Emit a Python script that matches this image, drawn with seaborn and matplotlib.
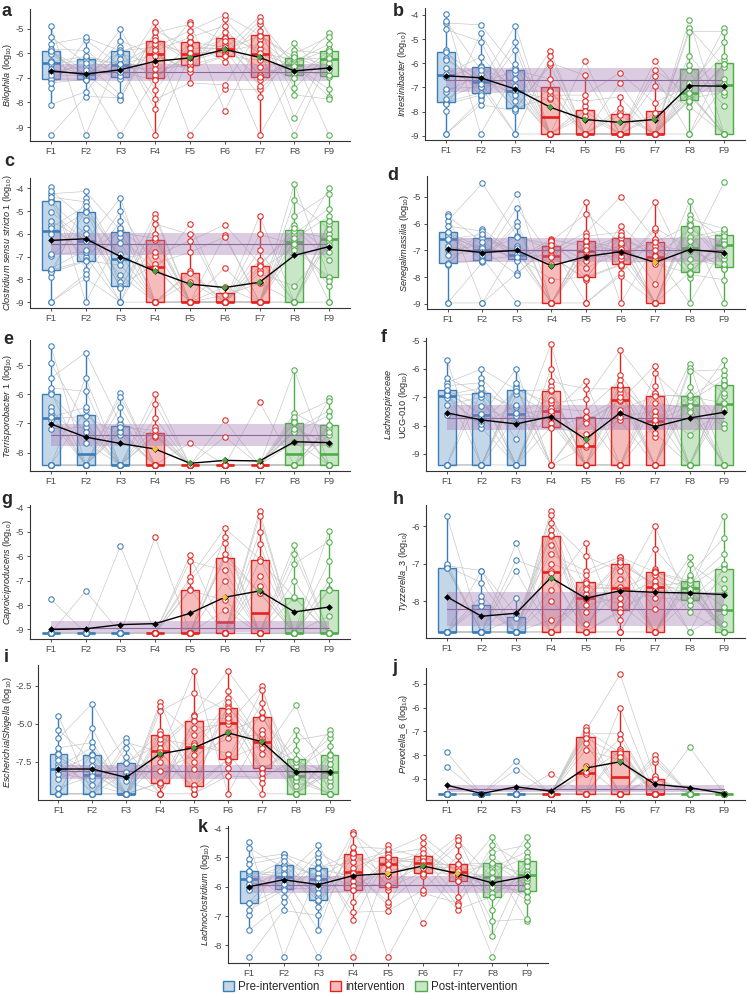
import numpy as np
import pandas as pd
import matplotlib
matplotlib.use("Agg")
import matplotlib.pyplot as plt
import seaborn as sns
from matplotlib.colors import to_rgba
from matplotlib.patches import Patch

sns.set_style("ticks")
plt.rcParams["font.family"] = ["Liberation Sans", "DejaVu Sans"]
plt.rcParams["mathtext.fontset"] = "custom"
plt.rcParams["mathtext.rm"] = "Liberation Sans"
plt.rcParams["mathtext.it"] = "Liberation Sans:italic"
plt.rcParams["mathtext.bf"] = "Liberation Sans:bold"
plt.rcParams["axes.unicode_minus"] = False

# %% data ---------------------------------------------------------------
VISITS = ["F1", "F2", "F3", "F4", "F5", "F6", "F7", "F8", "F9"]
PHASES = ["Pre-intervention"] * 3 + ["intervention"] * 4 + ["Post-intervention"] * 2
PHASE_COLORS = {"Pre-intervention": "#3B7DB9", "intervention": "#E2231F", "Post-intervention": "#4EAD48"}

# per-visit log10 abundances (20 samples each)
BILOPHILA = [
    [-9.32, -8.09, -7.43, -7.2, -7.1, -7.05, -6.89, -6.76, -6.63, -6.45, -6.36, -6.3, -6.05, -5.96, -5.92, -5.9, -5.83, -5.63, -5.33, -4.89],
    [-9.32, -7.76, -7.56, -7.09, -7.07, -7.05, -6.99, -6.95, -6.9, -6.87, -6.85, -6.69, -6.52, -6.4, -6.27, -6.2, -6.13, -5.89, -5.45, -5.36],
    [-9.32, -7.89, -7.8, -7.69, -7.03, -6.93, -6.89, -6.76, -6.6, -6.5, -6.45, -6.43, -6.23, -6.03, -5.94, -5.9, -5.89, -5.76, -5.49, -5.03],
    [-9.32, -8.27, -7.87, -7.49, -7.09, -7.0, -6.89, -6.63, -6.43, -6.1, -6.0, -5.89, -5.75, -5.63, -5.5, -5.45, -5.36, -5.16, -5.07, -4.72],
    [-9.32, -7.2, -6.76, -6.63, -6.52, -6.49, -6.35, -6.23, -6.1, -6.05, -6.0, -5.96, -5.8, -5.73, -5.55, -5.5, -5.36, -5.09, -4.83, -4.72],
    [-8.36, -7.47, -7.29, -6.36, -6.12, -6.1, -6.0, -5.95, -5.87, -5.84, -5.82, -5.76, -5.63, -5.5, -5.38, -5.33, -5.16, -4.89, -4.63, -4.45],
    [-9.32, -7.76, -7.47, -7.33, -7.09, -6.95, -6.89, -6.56, -6.29, -6.05, -6.0, -5.83, -5.63, -5.43, -5.29, -5.25, -5.09, -4.83, -4.69, -4.52],
    [-9.32, -8.63, -7.69, -7.43, -6.99, -6.85, -6.8, -6.69, -6.56, -6.5, -6.48, -6.4, -6.32, -6.25, -6.2, -6.16, -6.1, -6.03, -5.87, -5.6],
    [-9.32, -7.87, -7.76, -7.47, -6.96, -6.9, -6.69, -6.5, -6.4, -6.25, -6.2, -6.16, -6.05, -6.0, -5.9, -5.88, -5.83, -5.63, -5.33, -5.19],
]
BILOPHILA_MEAN = [-6.72, -6.85, -6.67, -6.33, -6.19, -5.85, -6.17, -6.72, -6.6]
BILOPHILA_MARK = "kkkkgggkk"
BILOPHILA_BAND = (-7.13, -6.78, -6.45)
BILOPHILA_TICKS = ["-9", "-8", "-7", "-6", "-5"]

INTESTINIBACTER = [
    [-8.93, -8.93, -7.98, -7.7, -7.64, -7.6, -7.46, -7.19, -7.05, -6.55, -6.45, -6.2, -5.85, -5.79, -5.55, -5.45, -4.6, -4.33, -4.23, -3.96],
    [-8.93, -7.71, -7.53, -7.39, -7.32, -7.23, -7.0, -6.98, -6.84, -6.78, -6.75, -6.64, -6.43, -6.27, -6.15, -6.1, -5.74, -5.1, -4.76, -4.41],
    [-8.93, -8.93, -7.98, -7.9, -7.87, -7.85, -7.57, -7.32, -7.2, -7.16, -7.15, -6.94, -6.64, -6.39, -6.29, -6.2, -6.02, -5.44, -5.1, -4.44],
    [-8.93, -8.93, -8.93, -8.93, -8.93, -8.93, -8.93, -8.93, -8.93, -8.93, -7.49, -7.43, -7.32, -7.16, -7.1, -6.66, -6.09, -5.98, -5.7, -5.51],
    [-8.93, -8.93, -8.93, -8.93, -8.93, -8.93, -8.93, -8.93, -8.93, -8.93, -8.93, -8.93, -8.93, -8.18, -7.98, -7.76, -7.57, -7.32, -6.5, -5.92],
    [-8.93, -8.93, -8.93, -8.93, -8.93, -8.93, -8.93, -8.93, -8.93, -8.93, -8.93, -8.93, -8.93, -8.93, -8.15, -8.01, -7.85, -7.39, -6.8, -6.39],
    [-8.93, -8.93, -8.93, -8.93, -8.93, -8.93, -8.93, -8.93, -8.93, -8.93, -8.93, -8.93, -8.93, -8.22, -8.08, -7.63, -6.94, -6.53, -6.29, -5.92],
    [-8.93, -8.93, -7.8, -7.6, -7.57, -7.5, -7.46, -7.32, -7.28, -7.25, -7.19, -7.02, -6.94, -6.8, -6.29, -6.09, -5.68, -4.69, -4.55, -4.19],
    [-8.93, -8.93, -8.93, -8.93, -8.93, -8.93, -7.76, -7.32, -7.19, -6.9, -6.86, -6.64, -6.16, -6.05, -6.02, -5.88, -5.7, -5.13, -4.69, -4.55],
]
INTESTINIBACTER_MEAN = [-6.52, -6.6, -7.07, -7.82, -8.33, -8.45, -8.33, -6.93, -6.95]
INTESTINIBACTER_MARK = "kkkggggkk"
INTESTINIBACTER_BAND = (-7.18, -6.68, -6.2)
INTESTINIBACTER_TICKS = ["-9", "-8", "-7", "-6", "-5", "-4"]

CLOSTRIDIUM = [
    [-9.0, -9.0, -7.89, -7.7, -7.64, -7.6, -7.53, -6.96, -6.89, -6.0, -5.74, -5.6, -5.43, -5.03, -4.6, -4.53, -4.39, -4.24, -4.1, -3.96],
    [-9.0, -7.96, -7.77, -7.57, -7.21, -7.17, -7.0, -6.81, -6.71, -6.32, -6.3, -6.03, -5.74, -5.39, -5.05, -4.97, -4.77, -4.6, -4.43, -4.14],
    [-9.0, -9.0, -9.0, -8.4, -8.34, -8.3, -8.1, -7.81, -7.39, -7.15, -7.1, -6.91, -6.39, -6.14, -5.96, -5.85, -5.74, -5.43, -5.0, -4.43],
    [-9.0, -9.0, -9.0, -9.0, -9.0, -9.0, -9.0, -9.0, -7.6, -7.5, -7.45, -7.31, -6.96, -6.81, -6.29, -6.2, -6.0, -5.57, -5.29, -5.14],
    [-9.0, -9.0, -9.0, -9.0, -9.0, -9.0, -9.0, -9.0, -9.0, -9.0, -9.0, -9.0, -9.0, -8.1, -7.74, -7.63, -6.81, -6.31, -6.03, -5.57],
    [-9.0, -9.0, -9.0, -9.0, -9.0, -9.0, -9.0, -9.0, -9.0, -9.0, -9.0, -9.0, -9.0, -9.0, -8.7, -8.34, -7.49, -6.14, -6.06, -5.6],
    [-9.0, -9.0, -9.0, -9.0, -9.0, -9.0, -9.0, -9.0, -9.0, -9.0, -9.0, -8.17, -7.74, -7.57, -7.43, -7.31, -7.14, -6.71, -6.03, -5.2],
    [-9.0, -9.0, -9.0, -9.0, -9.0, -9.0, -8.29, -6.7, -6.6, -6.46, -6.29, -6.2, -6.0, -5.89, -5.87, -5.74, -5.6, -5.24, -4.53, -3.81],
    [-9.0, -9.0, -8.31, -8.06, -7.95, -7.9, -7.17, -6.8, -6.5, -6.3, -6.2, -6.0, -5.8, -5.57, -5.45, -5.42, -5.24, -4.89, -4.24, -4.0],
]
CLOSTRIDIUM_MEAN = [-6.29, -6.22, -7.0, -7.65, -8.21, -8.36, -8.13, -6.95, -6.56]
CLOSTRIDIUM_MARK = "kkkggggkk"
CLOSTRIDIUM_BAND = (-6.92, -6.46, -5.96)
CLOSTRIDIUM_TICKS = ["-9", "-8", "-7", "-6", "-5", "-4"]

SENEGALIMASSILIA = [
    [-8.97, -8.97, -7.53, -7.5, -7.5, -7.47, -7.16, -6.97, -6.82, -6.6, -6.58, -6.5, -6.47, -6.4, -6.33, -6.3, -6.09, -5.9, -5.71, -5.65],
    [-8.97, -8.97, -7.45, -7.4, -7.38, -7.35, -7.28, -7.16, -7.05, -7.0, -6.95, -6.9, -6.82, -6.7, -6.55, -6.45, -6.4, -6.28, -6.2, -4.49],
    [-8.97, -7.91, -7.85, -7.4, -7.35, -7.33, -7.3, -7.24, -7.2, -7.17, -7.15, -7.0, -6.9, -6.82, -6.5, -6.45, -6.09, -5.94, -5.4, -4.9],
    [-8.97, -8.97, -8.97, -8.97, -8.97, -8.97, -8.97, -8.1, -7.5, -7.25, -7.2, -7.16, -7.0, -6.97, -6.84, -6.8, -6.72, -6.65, -6.6, -6.57],
    [-8.97, -8.97, -8.1, -8.05, -8.02, -8.0, -7.66, -7.4, -7.24, -7.05, -7.0, -6.97, -6.85, -6.72, -6.65, -6.6, -6.47, -6.34, -5.63, -5.19],
    [-8.97, -7.95, -7.85, -7.6, -7.55, -7.52, -7.32, -7.2, -7.07, -7.05, -7.0, -6.94, -6.8, -6.72, -6.55, -6.5, -6.44, -6.32, -6.07, -4.99],
    [-8.97, -8.97, -8.97, -8.97, -8.97, -8.97, -8.25, -7.5, -7.34, -7.25, -7.22, -7.16, -6.97, -6.82, -6.7, -6.6, -6.57, -6.24, -6.15, -5.19],
    [-8.97, -8.03, -7.9, -7.87, -7.85, -7.82, -7.57, -7.32, -7.03, -6.95, -6.88, -6.66, -6.5, -6.22, -6.1, -6.05, -5.97, -5.82, -5.69, -5.15],
    [-8.97, -8.1, -7.7, -7.68, -7.66, -7.6, -7.5, -7.34, -7.16, -6.8, -6.76, -6.7, -6.6, -6.53, -6.45, -6.42, -6.34, -6.25, -6.19, -4.44],
]
SENEGALIMASSILIA_MEAN = [-6.95, -7.08, -7.0, -7.58, -7.23, -7.05, -7.45, -6.97, -7.08]
SENEGALIMASSILIA_MARK = "kkkgkkykk"
SENEGALIMASSILIA_BAND = (-7.45, -6.99, -6.53)
SENEGALIMASSILIA_TICKS = ["-9", "-8", "-7", "-6", "-5"]

TERRISPOROBACTER = [
    [-8.43, -8.43, -8.43, -8.43, -8.43, -8.43, -8.43, -7.2, -6.9, -6.85, -6.78, -6.67, -6.56, -6.45, -6.0, -5.91, -5.78, -5.44, -4.93, -4.34],
    [-8.43, -8.43, -8.43, -8.43, -8.43, -8.43, -8.43, -8.43, -8.43, -8.43, -7.66, -7.3, -7.12, -6.99, -6.75, -6.54, -6.45, -5.9, -5.44, -4.57],
    [-8.43, -8.43, -8.43, -8.43, -8.43, -8.43, -8.43, -8.43, -8.43, -8.43, -8.43, -7.4, -7.3, -7.24, -7.12, -7.01, -6.84, -6.45, -6.09, -5.94],
    [-8.43, -8.43, -8.43, -8.43, -8.43, -8.43, -8.43, -8.43, -8.43, -8.43, -8.43, -8.43, -7.46, -7.42, -7.37, -7.24, -7.12, -6.81, -6.34, -6.0],
    [-8.43, -8.43, -8.43, -8.43, -8.43, -8.43, -8.43, -8.43, -8.43, -8.43, -8.43, -8.43, -8.43, -8.43, -8.43, -8.43, -8.43, -8.43, -8.43, -7.66],
    [-8.43, -8.43, -8.43, -8.43, -8.43, -8.43, -8.43, -8.43, -8.43, -8.43, -8.43, -8.43, -8.43, -8.43, -8.43, -8.43, -8.43, -8.43, -7.46, -6.9],
    [-8.43, -8.43, -8.43, -8.43, -8.43, -8.43, -8.43, -8.43, -8.43, -8.43, -8.43, -8.43, -8.43, -8.43, -8.43, -8.43, -8.43, -8.43, -8.43, -6.28],
    [-8.43, -8.43, -8.43, -8.43, -8.43, -8.43, -8.43, -8.43, -8.43, -8.43, -7.65, -7.29, -7.24, -7.18, -7.0, -6.95, -6.88, -6.79, -6.65, -5.16],
    [-8.43, -8.43, -8.43, -8.43, -8.43, -8.43, -8.43, -8.43, -8.43, -8.43, -7.7, -7.4, -7.29, -7.15, -7.07, -7.05, -6.73, -6.56, -6.22, -6.13],
]
TERRISPOROBACTER_MEAN = [-7.02, -7.47, -7.69, -7.88, -8.37, -8.27, -8.29, -7.63, -7.66]
TERRISPOROBACTER_MARK = "kkkygggkk"
TERRISPOROBACTER_BAND = (-7.78, -7.39, -7.01)
TERRISPOROBACTER_TICKS = ["-8", "-7", "-6", "-5"]

LACHNOSPIRACEAE = [
    [-9.39, -9.39, -9.39, -9.39, -9.39, -9.39, -7.61, -7.26, -7.02, -6.96, -6.92, -6.9, -6.85, -6.8, -6.76, -6.74, -6.59, -6.49, -6.32, -5.67],
    [-9.39, -9.39, -9.39, -9.39, -9.39, -9.39, -8.08, -7.96, -7.85, -7.65, -7.58, -7.3, -7.0, -6.9, -6.87, -6.83, -6.67, -6.49, -6.32, -6.0],
    [-9.39, -9.39, -9.39, -9.39, -9.39, -9.39, -8.47, -7.9, -7.65, -7.6, -7.55, -7.34, -7.29, -6.9, -6.77, -6.73, -6.67, -6.59, -6.49, -6.0],
    [-9.39, -9.39, -9.39, -9.39, -8.1, -8.05, -7.91, -7.73, -7.6, -7.5, -7.44, -7.38, -7.2, -7.08, -6.78, -6.73, -6.59, -6.44, -6.0, -5.12],
    [-9.39, -9.39, -9.39, -9.39, -9.39, -9.39, -9.39, -9.39, -9.39, -8.75, -8.67, -8.3, -7.91, -7.82, -7.7, -7.69, -7.49, -7.06, -6.7, -6.44],
    [-9.39, -9.39, -9.39, -9.39, -9.39, -9.39, -7.81, -7.69, -7.44, -7.14, -7.08, -6.99, -6.85, -6.71, -6.66, -6.6, -6.55, -6.38, -6.2, -5.34],
    [-9.39, -9.39, -9.39, -9.39, -9.39, -9.39, -8.4, -8.26, -7.95, -7.88, -7.82, -7.65, -7.49, -7.2, -6.96, -6.9, -6.85, -6.61, -6.16, -5.88],
    [-9.39, -9.39, -9.39, -9.39, -9.39, -9.39, -8.32, -7.53, -7.4, -7.3, -7.28, -7.14, -7.0, -6.98, -6.95, -6.92, -6.64, -6.08, -5.96, -5.81],
    [-9.39, -9.39, -9.39, -9.39, -9.39, -9.39, -8.08, -7.96, -7.4, -7.25, -7.2, -6.96, -6.85, -6.61, -6.58, -6.5, -6.38, -6.2, -6.02, -5.67],
]
LACHNOSPIRACEAE_MEAN = [-7.55, -7.8, -7.94, -7.68, -8.48, -7.55, -8.04, -7.73, -7.53]
LACHNOSPIRACEAE_MARK = "kkkkgkkkk"
LACHNOSPIRACEAE_BAND = (-8.17, -7.73, -7.29)
LACHNOSPIRACEAE_TICKS = ["-9", "-8", "-7", "-6", "-5"]

CAPROICIPRODUCENS = [
    [-9.14, -9.14, -9.14, -9.14, -9.14, -9.14, -9.14, -9.14, -9.14, -9.14, -9.14, -9.14, -9.14, -9.14, -9.14, -9.14, -9.14, -9.14, -9.14, -7.76],
    [-9.14, -9.14, -9.14, -9.14, -9.14, -9.14, -9.14, -9.14, -9.14, -9.14, -9.14, -9.14, -9.14, -9.14, -9.14, -9.14, -9.14, -9.14, -9.14, -7.42],
    [-9.14, -9.14, -9.14, -9.14, -9.14, -9.14, -9.14, -9.14, -9.14, -9.14, -9.14, -9.14, -9.14, -9.14, -9.14, -9.14, -9.14, -9.14, -9.14, -5.58],
    [-9.14, -9.14, -9.14, -9.14, -9.14, -9.14, -9.14, -9.14, -9.14, -9.14, -9.14, -9.14, -9.14, -9.14, -9.14, -9.14, -9.14, -9.14, -9.14, -5.21],
    [-9.14, -9.14, -9.14, -9.14, -9.14, -9.14, -9.14, -9.14, -9.14, -9.14, -9.14, -9.14, -9.14, -9.14, -7.4, -7.35, -7.0, -6.86, -6.2, -5.96],
    [-9.14, -9.14, -9.14, -9.14, -9.14, -9.14, -9.14, -9.14, -9.14, -9.14, -8.21, -7.8, -7.0, -6.58, -6.1, -6.06, -5.89, -5.44, -5.2, -4.85],
    [-9.14, -9.14, -9.14, -9.14, -9.14, -9.14, -9.14, -9.14, -9.14, -9.14, -7.5, -7.49, -7.2, -6.8, -6.19, -6.1, -5.5, -5.0, -4.36, -4.15],
    [-9.14, -9.14, -9.14, -9.14, -9.14, -9.14, -9.14, -9.14, -9.14, -9.14, -9.14, -9.14, -9.14, -9.14, -7.7, -7.67, -7.0, -6.31, -5.9, -5.54],
    [-9.14, -9.14, -9.14, -9.14, -9.14, -9.14, -9.14, -9.14, -9.14, -9.14, -9.14, -9.14, -9.14, -8.46, -7.4, -7.35, -6.97, -6.2, -5.4, -4.96],
]
CAPROICIPRODUCENS_MEAN = [-9.0, -8.97, -8.8, -8.76, -8.34, -7.68, -7.42, -8.28, -8.08]
CAPROICIPRODUCENS_MARK = "kkkkkygkk"
CAPROICIPRODUCENS_BAND = (-9.11, -8.92, -8.64)
CAPROICIPRODUCENS_TICKS = ["-9", "-8", "-7", "-6", "-5", "-4"]

TYZZERELLA = [
    [-8.82, -8.82, -8.82, -8.82, -8.82, -8.82, -8.82, -8.82, -8.82, -8.82, -8.82, -8.82, -8.82, -8.82, -7.12, -7.1, -7.07, -7.05, -7.0, -5.71],
    [-8.82, -8.82, -8.82, -8.82, -8.82, -8.82, -8.82, -8.82, -8.82, -8.82, -8.82, -8.82, -8.82, -8.82, -8.12, -8.0, -7.85, -7.5, -7.18, -7.18],
    [-8.82, -8.82, -8.82, -8.82, -8.82, -8.82, -8.82, -8.82, -8.82, -8.82, -8.82, -8.82, -8.82, -8.82, -8.45, -8.35, -7.9, -7.2, -6.9, -6.44],
    [-8.82, -8.82, -8.82, -8.82, -8.82, -8.82, -8.5, -8.0, -7.7, -7.25, -7.2, -7.0, -6.75, -6.5, -6.26, -6.24, -6.1, -5.9, -5.7, -5.59],
    [-8.82, -8.82, -8.82, -8.82, -8.82, -8.82, -8.6, -8.3, -8.1, -7.95, -7.9, -7.8, -7.67, -7.6, -7.5, -7.45, -7.3, -7.18, -6.8, -6.44],
    [-8.82, -8.82, -8.82, -8.5, -8.28, -8.22, -8.07, -7.9, -7.7, -7.66, -7.64, -7.62, -7.4, -7.2, -7.02, -6.98, -6.95, -6.9, -6.82, -6.82],
    [-8.82, -8.82, -8.82, -8.82, -8.82, -8.82, -8.2, -7.9, -7.7, -7.65, -7.58, -7.54, -7.45, -7.3, -7.23, -7.22, -7.18, -7.13, -6.6, -6.0],
    [-8.82, -8.82, -8.3, -8.1, -7.97, -7.95, -7.85, -7.75, -7.7, -7.66, -7.64, -7.6, -7.55, -7.5, -7.47, -7.44, -7.35, -7.29, -7.0, -6.82],
    [-8.82, -8.82, -8.82, -8.82, -8.82, -8.82, -8.82, -8.82, -8.6, -8.3, -8.16, -7.8, -7.65, -7.4, -7.15, -7.07, -7.0, -6.73, -6.3, -5.73],
]
TYZZERELLA_MEAN = [-7.88, -8.4, -8.32, -7.37, -7.92, -7.72, -7.76, -7.78, -7.82]
TYZZERELLA_MARK = "kkkgkkkkk"
TYZZERELLA_BAND = (-8.67, -8.21, -7.76)
TYZZERELLA_TICKS = ["-8", "-7", "-6"]

ESCHERICHIA = [
    [-9.6, -9.6, -9.6, -9.6, -9.6, -9.6, -9.2, -8.6, -8.3, -8.08, -7.86, -7.63, -7.41, -7.19, -6.98, -6.95, -6.58, -5.96, -5.4, -4.46],
    [-9.6, -9.6, -9.6, -9.6, -9.6, -9.6, -9.0, -8.6, -8.42, -8.38, -8.3, -8.19, -7.75, -7.41, -7.05, -6.98, -6.52, -6.23, -5.29, -3.68],
    [-9.6, -9.6, -9.6, -9.6, -9.6, -9.6, -9.6, -9.6, -9.6, -9.6, -9.6, -8.75, -8.46, -8.19, -7.6, -7.55, -7.2, -6.58, -6.23, -5.92],
    [-9.6, -9.6, -9.6, -9.0, -8.9, -8.85, -8.08, -7.5, -7.03, -6.85, -6.75, -6.58, -6.29, -6.0, -5.74, -5.66, -5.47, -4.17, -3.84, -3.57],
    [-9.6, -9.6, -9.6, -9.3, -9.1, -9.05, -8.0, -7.52, -7.08, -6.63, -6.4, -6.29, -5.74, -5.29, -4.84, -4.78, -4.51, -4.4, -3.0, -1.55],
    [-9.6, -8.42, -7.92, -7.5, -7.35, -7.3, -6.96, -5.96, -5.51, -5.0, -4.85, -4.62, -4.4, -4.18, -4.0, -3.8, -3.57, -3.33, -2.84, -1.55],
    [-9.6, -8.86, -8.53, -8.2, -7.95, -7.9, -7.0, -6.58, -6.4, -6.23, -6.13, -5.96, -5.69, -5.4, -4.6, -4.55, -4.22, -3.66, -2.77, -2.54],
    [-9.6, -9.6, -9.6, -9.6, -9.6, -9.6, -9.08, -8.75, -8.6, -8.5, -8.42, -8.08, -7.79, -7.48, -7.36, -7.3, -6.74, -6.07, -5.4, -3.78],
    [-9.6, -9.6, -9.6, -9.6, -9.6, -9.6, -9.08, -8.75, -8.5, -8.22, -8.16, -7.97, -7.63, -7.3, -7.03, -6.99, -6.45, -5.96, -5.69, -5.4],
]
ESCHERICHIA_MEAN = [-7.97, -7.97, -8.52, -6.98, -6.58, -5.6, -6.18, -8.16, -8.14]
ESCHERICHIA_MARK = "kkkggggkk"
ESCHERICHIA_BAND = (-8.6, -8.13, -7.72)
ESCHERICHIA_TICKS = ["-7.5", "-5.0", "-2.5"]

PREVOTELLA = [
    [-9.64, -9.64, -9.64, -9.64, -9.64, -9.64, -9.64, -9.64, -9.64, -9.64, -9.64, -9.64, -9.64, -9.64, -9.64, -9.64, -9.64, -9.64, -8.5, -7.88],
    [-9.64, -9.64, -9.64, -9.64, -9.64, -9.64, -9.64, -9.64, -9.64, -9.64, -9.64, -9.64, -9.64, -9.64, -9.64, -9.64, -9.64, -9.64, -9.64, -9.64],
    [-9.64, -9.64, -9.64, -9.64, -9.64, -9.64, -9.64, -9.64, -9.64, -9.64, -9.64, -9.64, -9.64, -9.64, -9.64, -9.64, -9.64, -9.64, -8.61, -8.26],
    [-9.64, -9.64, -9.64, -9.64, -9.64, -9.64, -9.64, -9.64, -9.64, -9.64, -9.64, -9.64, -9.64, -9.64, -9.64, -9.64, -9.64, -9.64, -9.64, -8.78],
    [-9.64, -9.64, -9.64, -9.64, -9.64, -9.64, -9.64, -9.64, -9.64, -8.8, -8.7, -8.47, -7.8, -7.5, -7.26, -7.22, -7.1, -7.0, -6.93, -6.8],
    [-9.64, -9.64, -9.64, -9.64, -9.64, -9.64, -9.64, -9.64, -9.64, -9.64, -8.2, -8.08, -7.95, -7.91, -7.83, -7.75, -7.3, -7.1, -6.0, -4.58],
    [-9.64, -9.64, -9.64, -9.64, -9.64, -9.64, -9.64, -9.64, -9.64, -9.64, -9.64, -9.64, -9.64, -9.64, -9.0, -8.96, -8.9, -8.3, -8.16, -8.0],
    [-9.64, -9.64, -9.64, -9.64, -9.64, -9.64, -9.64, -9.64, -9.64, -9.64, -9.64, -9.64, -9.64, -9.64, -9.64, -9.64, -9.64, -9.64, -9.64, -7.66],
    [-9.64, -9.64, -9.64, -9.64, -9.64, -9.64, -9.64, -9.64, -9.64, -9.64, -9.64, -9.64, -9.64, -9.64, -9.64, -9.64, -9.64, -9.64, -9.64, -9.64],
]
PREVOTELLA_MEAN = [-9.27, -9.62, -9.34, -9.52, -8.55, -8.28, -9.23, -9.37, -9.62]
PREVOTELLA_MARK = "kkkkygkkk"
PREVOTELLA_BAND = (-9.55, -9.42, -9.27)
PREVOTELLA_TICKS = ["-9", "-8", "-7", "-6", "-5"]

LACHNOCLOSTRIDIUM = [
    [-8.39, -7.49, -6.98, -6.81, -6.55, -6.55, -6.11, -6.01, -5.89, -5.78, -5.72, -5.64, -5.52, -5.5, -5.47, -5.45, -5.23, -5.05, -4.68, -4.47],
    [-8.39, -6.81, -6.51, -6.36, -6.1, -6.06, -6.05, -5.89, -5.75, -5.68, -5.64, -5.55, -5.46, -5.35, -5.27, -5.25, -5.11, -4.99, -4.9, -4.88],
    [-8.39, -7.49, -6.98, -6.69, -6.47, -6.45, -6.34, -6.22, -6.05, -5.8, -5.7, -5.6, -5.54, -5.4, -5.36, -5.34, -5.17, -4.99, -4.84, -4.58],
    [-8.39, -7.13, -6.87, -6.51, -6.12, -6.1, -5.96, -5.81, -5.64, -5.52, -5.48, -5.35, -5.17, -4.99, -4.9, -4.86, -4.82, -4.64, -4.21, -4.14],
    [-8.39, -6.83, -6.63, -6.51, -6.1, -6.0, -5.93, -5.64, -5.43, -5.25, -5.21, -5.17, -5.1, -5.05, -5.0, -4.98, -4.88, -4.8, -4.7, -4.58],
    [-7.25, -6.22, -6.11, -5.64, -5.55, -5.52, -5.5, -5.35, -5.25, -5.2, -5.18, -5.11, -5.05, -5.0, -4.97, -4.95, -4.84, -4.7, -4.5, -4.29],
    [-6.78, -6.63, -6.55, -6.34, -5.82, -5.8, -5.7, -5.6, -5.55, -5.52, -5.48, -5.4, -5.35, -5.3, -5.24, -5.22, -4.96, -4.58, -4.41, -4.29],
    [-8.39, -7.68, -7.18, -6.78, -6.35, -6.33, -6.2, -6.01, -5.85, -5.7, -5.64, -5.5, -5.35, -5.25, -5.21, -5.19, -4.99, -4.82, -4.58, -4.29],
    [-7.18, -7.1, -6.48, -6.34, -6.17, -6.15, -5.96, -5.81, -5.7, -5.62, -5.56, -5.46, -5.29, -5.2, -5.12, -5.1, -4.99, -4.8, -4.58, -4.29],
]
LACHNOCLOSTRIDIUM_MEAN = [-6.0, -5.76, -5.93, -5.62, -5.55, -5.29, -5.55, -5.87, -5.65]
LACHNOCLOSTRIDIUM_MARK = "kkkkygykk"
LACHNOCLOSTRIDIUM_BAND = (-6.22, -5.93, -5.64)
LACHNOCLOSTRIDIUM_TICKS = ["-8", "-7", "-6", "-5", "-4"]

# subject identity is not recoverable from the figure: hand-assigned rank of each
# of the 20 subjects within a visit, used only to draw the grey per-subject lines
RANK_ORDERS = [
    [7, 15, 2, 11, 19, 4, 13, 0, 9, 17, 5, 12, 1, 16, 8, 18, 3, 10, 14, 6],
    [12, 3, 18, 6, 0, 15, 9, 1, 14, 19, 5, 10, 2, 17, 7, 13, 4, 16, 11, 8],
    [4, 17, 9, 0, 13, 6, 19, 2, 11, 15, 8, 1, 16, 5, 12, 3, 18, 10, 7, 14],
    [16, 1, 10, 5, 8, 19, 3, 14, 0, 12, 7, 18, 2, 11, 6, 17, 9, 13, 4, 15],
]

LOG = r" (log$_{10}$)"
PANELS = [
    ("a", BILOPHILA, BILOPHILA_MEAN, BILOPHILA_MARK, BILOPHILA_BAND, BILOPHILA_TICKS,
     r"$\mathit{Bilophila}$" + LOG),
    ("b", INTESTINIBACTER, INTESTINIBACTER_MEAN, INTESTINIBACTER_MARK, INTESTINIBACTER_BAND, INTESTINIBACTER_TICKS,
     r"$\mathit{Intestinibacter}$" + LOG),
    ("c", CLOSTRIDIUM, CLOSTRIDIUM_MEAN, CLOSTRIDIUM_MARK, CLOSTRIDIUM_BAND, CLOSTRIDIUM_TICKS,
     r"$\mathit{Clostridium\ sensu\ stricto\ 1}$" + LOG),
    ("d", SENEGALIMASSILIA, SENEGALIMASSILIA_MEAN, SENEGALIMASSILIA_MARK, SENEGALIMASSILIA_BAND, SENEGALIMASSILIA_TICKS,
     r"$\mathit{Senegalimassilia}$" + LOG),
    ("e", TERRISPOROBACTER, TERRISPOROBACTER_MEAN, TERRISPOROBACTER_MARK, TERRISPOROBACTER_BAND, TERRISPOROBACTER_TICKS,
     r"$\mathit{Terrisporobacter\ 1}$" + LOG),
    ("f", LACHNOSPIRACEAE, LACHNOSPIRACEAE_MEAN, LACHNOSPIRACEAE_MARK, LACHNOSPIRACEAE_BAND, LACHNOSPIRACEAE_TICKS,
     r"$\mathit{Lachnospiraceae}$" + "\n" + "UCG-010" + LOG),
    ("g", CAPROICIPRODUCENS, CAPROICIPRODUCENS_MEAN, CAPROICIPRODUCENS_MARK, CAPROICIPRODUCENS_BAND, CAPROICIPRODUCENS_TICKS,
     r"$\mathit{Caproiciproducens}$" + LOG),
    ("h", TYZZERELLA, TYZZERELLA_MEAN, TYZZERELLA_MARK, TYZZERELLA_BAND, TYZZERELLA_TICKS,
     r"$\mathit{Tyzzerella\_3}$" + LOG),
    ("i", ESCHERICHIA, ESCHERICHIA_MEAN, ESCHERICHIA_MARK, ESCHERICHIA_BAND, ESCHERICHIA_TICKS,
     r"$\mathit{Escherichia/Shigella}$" + LOG),
    ("j", PREVOTELLA, PREVOTELLA_MEAN, PREVOTELLA_MARK, PREVOTELLA_BAND, PREVOTELLA_TICKS,
     r"$\mathit{Prevotella\_6}$" + LOG),
    ("k", LACHNOCLOSTRIDIUM, LACHNOCLOSTRIDIUM_MEAN, LACHNOCLOSTRIDIUM_MARK, LACHNOCLOSTRIDIUM_BAND, LACHNOCLOSTRIDIUM_TICKS,
     r"$\mathit{Lachnoclostridium}$" + LOG),
]

# %% layout (pixels: left, top, right, bottom) ----------------------------
W, H = 747, 994
AXES_BOX = {
    "a": (30, 9, 350, 141), "b": (425, 8, 745, 140),
    "c": (30, 178, 350, 308), "d": (427, 176, 745, 309),
    "e": (30, 340, 350, 471), "f": (426, 338, 745, 471),
    "g": (30, 505, 350, 639), "h": (426, 505, 745, 638),
    "i": (38, 665, 350, 800), "j": (426, 668, 745, 800),
    "k": (228, 826, 548, 963),
}
LETTER_POS = {
    "a": (7, 11), "b": (398, 11), "c": (9, 161), "d": (393, 175),
    "e": (8, 340), "f": (384, 337), "g": (7, 500), "h": (398, 500),
    "i": (6, 658), "j": (395, 667), "k": (203, 827),
}
MARK_COLORS = {"g": "#4E9F3D", "y": "#F3C334"}
BAND_COLOR = "#A47AB4"
BAND_LINE = "#8C6A9E"


def draw_panel(ax, values, means, marks, band, ticks, ylabel):
    pos = np.arange(len(VISITS))
    rows = []
    for t, v in enumerate(values):
        ranked = np.sort(np.asarray(v))
        order = RANK_ORDERS[t % len(RANK_ORDERS)]
        for subj in range(len(ranked)):
            rows.append((subj, t, VISITS[t], PHASES[t], ranked[order[subj]]))
    df = pd.DataFrame(rows, columns=["subject", "pos", "visit", "phase", "value"])

    # boxes, one phase at a time so edges follow the phase colour
    for phase, c in PHASE_COLORS.items():
        sub = df[df["phase"] == phase]
        n_before = len(ax.patches)
        sns.boxplot(data=sub, x="visit", y="value", order=VISITS, color=c, linecolor=c,
                    saturation=1, width=0.52, linewidth=1.0, showfliers=False,
                    showcaps=False, medianprops=dict(linewidth=1.9), ax=ax)
        for p in ax.patches[n_before:]:
            p.set_facecolor(to_rgba(c, 0.3))
            p.set_edgecolor(c)
        sns.stripplot(data=sub, x="visit", y="value", order=VISITS, jitter=False,
                      color="white", edgecolor=c, linewidth=0.75, size=3.9, ax=ax, zorder=4)

    # per-subject trajectories
    sns.lineplot(data=df, x="pos", y="value", units="subject", estimator=None,
                 color="#c4c4c4", lw=0.45, ax=ax, zorder=1, legend=False)

    # baseline band
    lo, mid, hi = band
    ax.fill_between([0, 8], [lo, lo], [hi, hi], color=BAND_COLOR, alpha=0.38, lw=0, zorder=3)
    ax.plot([0, 8], [mid, mid], color=BAND_LINE, lw=0.8, zorder=3)

    # mean trajectory
    sns.lineplot(x=pos, y=means, color="black", lw=1.0, marker="D", markersize=3.4,
                 markeredgewidth=0, ax=ax, zorder=6)
    hl = [i for i, m in enumerate(marks) if m in MARK_COLORS]
    if hl:
        ax.scatter([pos[i] for i in hl], [means[i] for i in hl], marker="D", s=11,
                   c=[MARK_COLORS[marks[i]] for i in hl], linewidths=0, zorder=7)

    allv = np.concatenate([np.ravel(values), means])
    rng = allv.max() - allv.min()
    ax.set_ylim(allv.min() - 0.05 * rng, allv.max() + 0.05 * rng)
    ax.set_xlim(-0.6, 8.6)
    ax.set_xticks(pos)
    ax.set_xticklabels(VISITS)
    ax.set_yticks([float(t) for t in ticks])
    ax.set_yticklabels(ticks)
    ax.set_xlabel("")
    ax.set_ylabel(ylabel, fontsize=6.6, labelpad=1.5)
    sns.despine(ax=ax)
    for s in ("left", "bottom"):
        ax.spines[s].set_linewidth(0.8)
        ax.spines[s].set_color("#333333")
    ax.tick_params(axis="both", length=2.5, width=0.6, color="#333333",
                   labelsize=6.8, labelcolor="#4a4a4a", pad=1.5)
    ax.grid(False)


fig = plt.figure(figsize=(W / 100, H / 100), dpi=100)
for letter, values, means, marks, band, ticks, ylabel in PANELS:
    l, t, r, b = AXES_BOX[letter]
    ax = fig.add_axes([l / W, 1 - b / H, (r - l) / W, (b - t) / H])
    draw_panel(ax, values, means, marks, band, ticks, ylabel)
    lx, ly = LETTER_POS[letter]
    fig.text(lx / W, 1 - ly / H, letter, fontsize=13, fontweight="bold", ha="center", va="center")

handles = [Patch(facecolor=to_rgba(c, 0.3), edgecolor=c, linewidth=1.0) for c in PHASE_COLORS.values()]
fig.legend(handles, list(PHASE_COLORS.keys()), loc="center", bbox_to_anchor=(370 / W, 1 - 987 / H),
           ncol=3, frameon=False, fontsize=8.3, handlelength=1.0, handleheight=0.9,
           handletextpad=0.35, columnspacing=0.9)

fig.savefig("out.png", dpi=100)
